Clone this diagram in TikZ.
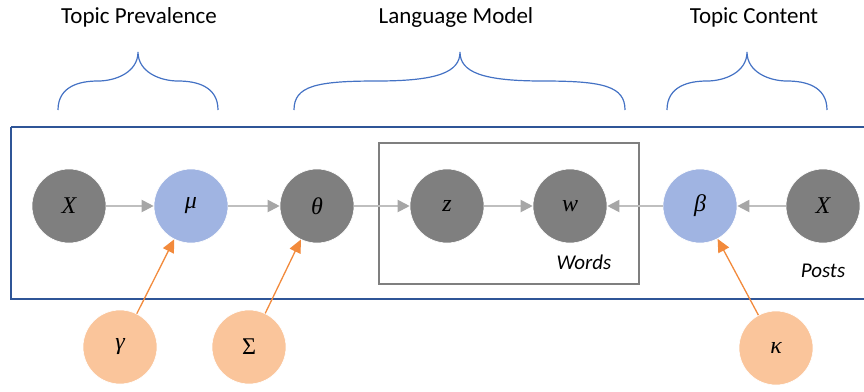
\documentclass[tikz,border=0pt]{standalone}
\usepackage{fontspec}
\setmainfont{Carlito}
\newfontfamily\nodeserif{Liberation Serif}
\usetikzlibrary{arrows.meta}
\definecolor{frameblue}{HTML}{2F5597}
\definecolor{braceblue}{HTML}{4472C4}
\definecolor{nodegray}{HTML}{7F7F7F}
\definecolor{nodeblue}{HTML}{A0B4E2}
\definecolor{nodeorange}{HTML}{FAC59B}
\definecolor{arroworange}{HTML}{F28A3C}
\definecolor{linegray}{HTML}{BFBFBF}
\definecolor{tipgray}{HTML}{A6A6A6}
\tikzset{
  var/.style={circle, minimum size=74pt, inner sep=0pt, draw=white, line width=0.6pt,
    font=\nodeserif\itshape\fontsize{24}{28}\selectfont},
  obs/.style={var, fill=nodegray},
  lat/.style={var, fill=nodeblue},
  hyp/.style={var, fill=nodeorange},
  garrow/.style={draw=linegray, line width=2pt,
    -{Triangle[length=12pt,width=12pt,fill=tipgray,color=tipgray]}},
  oarrow/.style={draw=arroworange, line width=1.3pt,
    -{Triangle[length=13pt,width=12pt,fill=arroworange,color=arroworange]}},
  bracepath/.style={draw=braceblue, line width=1.2pt},
  title/.style={font=\fontsize{23}{27}\selectfont, inner sep=0pt},
  platelabel/.style={font=\fontsize{21}{25}\selectfont\itshape, inner sep=0pt}
}
\newcommand\mybrace[3]{%
  \draw[bracepath] (#1,110) .. controls (#1,86) and ({#1+22},81) .. ({(#1+#3)/2},81)
    .. controls ({#3-22},81) and (#3,72) .. (#3,52)
    .. controls (#3,72) and ({#3+22},81) .. ({(#2+#3)/2},81)
    .. controls ({#2-22},81) and (#2,86) .. (#2,110);}
\begin{document}
\begin{tikzpicture}[x=1pt,y=-1pt]
\useasboundingbox (0,0) rectangle (864,391);
% titles
\node[title] (t1) at (139,17) {Topic Prevalence};
\node[title] (t2) at (456,17) {Language Model};
\node[title] (t3) at (754,17) {Topic Content};
% braces
\mybrace{58}{218}{138}
\mybrace{294}{625}{460}
\mybrace{667}{827}{747}
% plates
\draw[frameblue, line width=2.5pt] (11,127) -- (875,127);
\draw[frameblue, line width=2.5pt] (875,299) -- (11,299) -- (11,127);
\draw[nodegray, line width=2pt] (379,143) rectangle (639,284);
\node[platelabel] (words) at (584,262) {Words};
\node[platelabel] (posts) at (823,271) {Posts};
% nodes
\node[obs] (x1) at (69,206) {X};
\node[lat] (mu) at (191,206) {μ};
\node[obs] (theta) at (317,206) {θ};
\node[obs] (z) at (447,206) {z};
\node[obs] (w) at (570,206) {w};
\node[lat] (beta) at (700,206) {β};
\node[obs] (x2) at (823,206) {X};
\node[hyp] (gamma) at (120,347) {γ};
\node[hyp] (sigma) at (249,347) {\upshape Σ};
\node[hyp] (kappa) at (776,348) {κ};
% arrows
\draw[garrow] (x1) -- (mu);
\draw[garrow] (mu) -- (theta);
\draw[garrow] (theta) -- (z);
\draw[garrow] (z) -- (w);
\draw[garrow] (beta) -- (w);
\draw[garrow] (x2) -- (beta);
\draw[oarrow] (gamma) -- (mu);
\draw[oarrow] (sigma) -- (theta);
\draw[oarrow] (kappa) -- (beta);
\end{tikzpicture}
\end{document}
